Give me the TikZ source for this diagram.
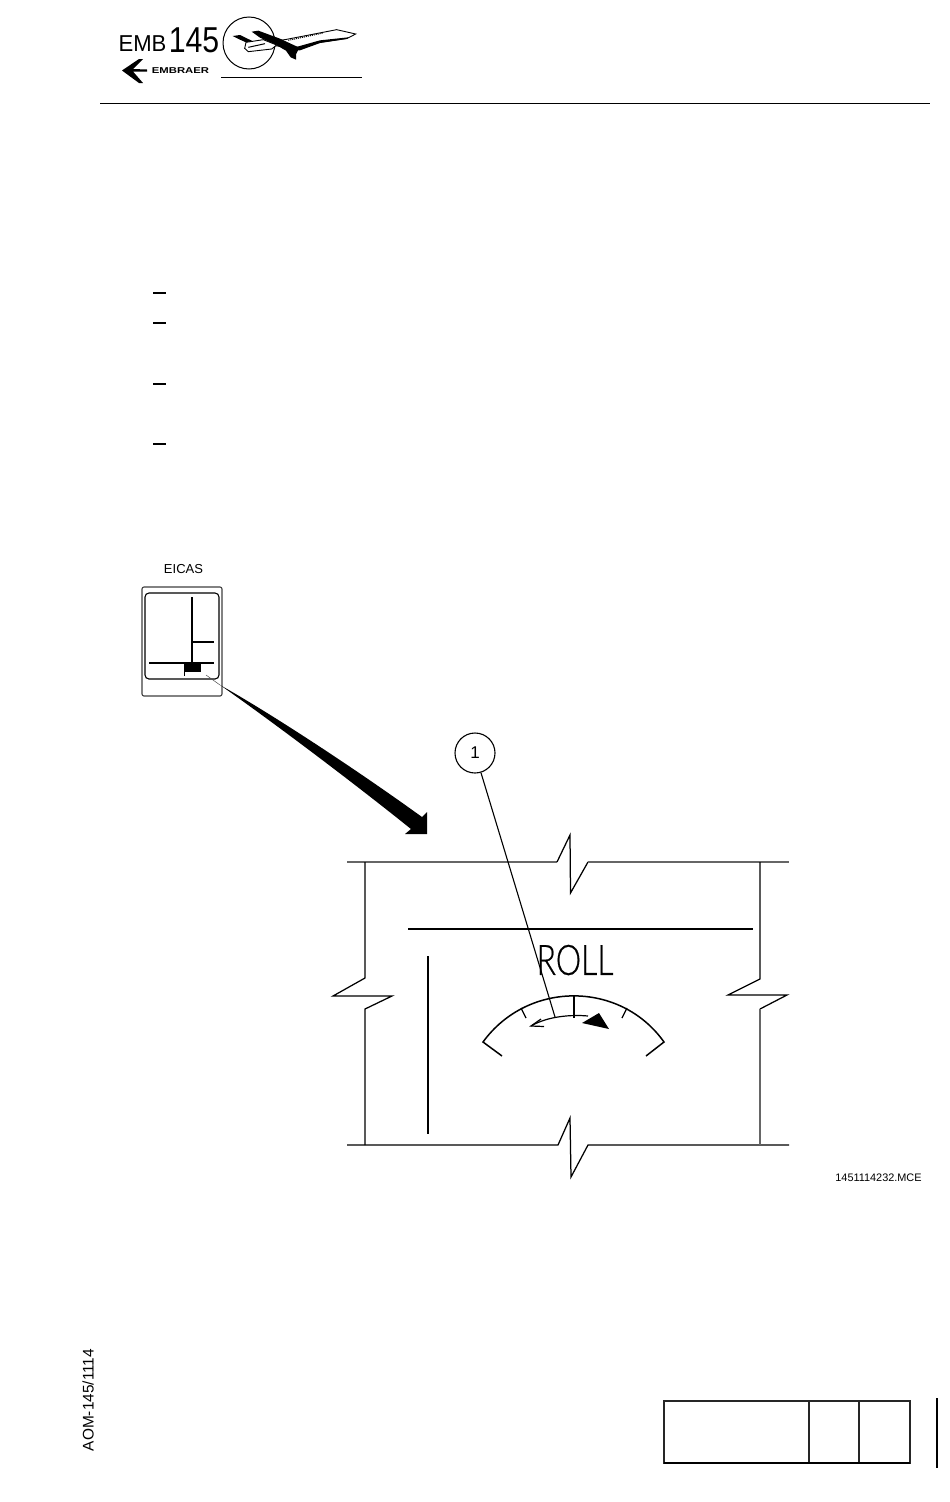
\documentclass[tikz,border=0pt]{standalone}
\usepackage{fontspec}
\usepackage{graphicx}
\setmainfont{Liberation Sans}
\newfontfamily\rollfont[FakeBold=0.6]{Lato Light}
\tikzset{
  thinline/.style={line width=1.25pt,black,line join=miter},
  frameline/.style={line width=1.6pt,black!60,line join=miter},
  heavyline/.style={line width=1.7pt,black},
  solidblack/.style={fill=black,draw=none},
  lbl/.style={inner sep=0pt,outer sep=0pt,text=black},
  tablecell/.style={line width=1.7pt,black!85},
}
\begin{document}
\begin{tikzpicture}[x=1pt,y=-1pt]
\useasboundingbox (0,0) rectangle (950,1502);
\fill[white] (0,0) rectangle (950,1502);

% ---- header logo ----
\node[lbl,anchor=center] (emb) at (142.5,44) {\fontsize{23}{23}\selectfont\scalebox{.96}[1]{EMB}};
\node[lbl,anchor=center] (num) at (194,40) {\fontsize{36}{36}\selectfont\scalebox{.84}[1]{145}};
\node[lbl,anchor=center] (embraer) at (180.5,71) {\fontsize{8.5}{8.5}\selectfont\bfseries\scalebox{1.33}[1]{EMBRAER}};
\fill[black] (122,70.5) -- (139,59) -- (143,59) -- (133,69) -- (147,69.5) -- (147,71.5) -- (133,71.5) -- (143,83) -- (139,83) -- cycle;
\draw[line width=1pt] (249,43) circle[radius=26];
\begin{scope}[shift={(220,15)},xscale=1/3,yscale=1/3]
  \filldraw[fill=white,draw=black,line width=.9pt] (407,57) -- (350,44) -- (200,73) -- (170,78) -- (165,92) -- (240,102) -- (300,82) -- (382,70) -- cycle;
  \fill[black] (300,76) -- (385,67) -- (380,72) -- (300,84) -- (240,106) -- (200,104) -- cycle;
  \fill[black] (95,50) -- (115,47) -- (180,71) -- (238,98) -- (228,118) -- (228,134) -- (212,127) -- (198,107) -- (165,88) -- (120,68) -- cycle;
  \fill[black] (38,63) -- (60,60) -- (97,78) -- (85,85) -- (60,74) -- cycle;
  \filldraw[fill=white,draw=black,line width=.9pt] (78,82) -- (130,74) -- (170,90) -- (155,102) -- (85,110) -- (74,100) -- cycle;
  \draw[line width=1pt] (85,97) -- (135,86);
  \draw[line width=1pt,dash pattern=on 1pt off 1pt] (205,76) -- (310,54);
\end{scope}
\draw[line width=1pt] (221,77) -- (362,77);
\draw[line width=1pt] (100,103) -- (930,103);

% ---- list dashes ----
\foreach \yy in {293,323,384,444} \draw[line width=1.3pt] (153,\yy) -- (166,\yy);

% ---- EICAS thumbnail ----
\node[lbl] (eicas) at (183.5,569.5) {\fontsize{13}{13}\selectfont EICAS};
\draw[line width=1.1pt,black!75,rounded corners=2pt] (142,587) rectangle (222,696);
\draw[line width=1.1pt,rounded corners=4pt] (145,593) rectangle (219,679);
\draw[line width=1.1pt] (192,597) -- (192,663);
\draw[line width=1.1pt] (192,642) -- (214,642);
\draw[line width=1.2pt] (149,663) -- (214,663);
\fill[black] (184,663) rectangle (201,672);
\draw[line width=.9pt] (184,672) -- (184,676);

% ---- curved arrow ----
\draw[line width=.5pt,black!70] (206,675) -- (220,685);
\fill[black] (220,685) .. controls (265,710) and (350,765) .. (422,817)
  -- (427,812) -- (427,834) -- (405,834) -- (411,829)
  .. controls (350,780) and (270,720) .. (220,685) -- cycle;

% ---- frame with break marks ----
\draw[frameline] (347,862) -- (557,862);
\draw[thinline] (557,862) -- (570,835) -- (570.5,893) -- (588,862);
\draw[frameline] (588,862) -- (789,862);
\draw[thinline] (347,1145) -- (558,1145) -- (570,1118) -- (571,1177) -- (588,1145) -- (789,1145);
\draw[thinline] (365,862) -- (365,978) -- (333,996) -- (392,996) -- (365,1009) -- (365,1145);
\draw[thinline] (760,862) -- (760,979) -- (728,995) -- (787,995) -- (760,1009);
\draw[frameline] (760,1009) -- (760,1145);

% ---- tape ----
\draw[heavyline] (408,929) -- (753,929);
\draw[line width=1.25pt] (428,956) -- (428,1134);

% ---- ROLL ----
\node[lbl] (roll) at (575,960) {\fontsize{42}{42}\selectfont\rollfont\scalebox{.76}[1]{ROLL}};

% ---- gauge ----
\draw[line width=1.5pt,line join=miter] (502,1056) -- (483,1042) .. controls (527.7,980.5) and (620.3,980.5) .. (664,1042) -- (646,1056);
\draw[line width=1.2pt] (521,1008) -- (526,1018);
\draw[line width=1.2pt] (574,995) -- (574,1018);
\draw[line width=1.2pt] (627,1008) -- (622,1018);
\draw[line width=1.2pt] (588,1016) .. controls (572,1014.5) and (548,1016) .. (531,1026);
\draw[line width=1.2pt] (541,1019) -- (531,1026) -- (544,1026.5);
\fill[black] (582,1023) -- (599,1013) -- (609,1029) -- cycle;

% ---- callout ----
\node[circle,draw,line width=1.1pt,minimum size=40pt,inner sep=0pt,font=\fontsize{17}{17}\selectfont] (c1) at (475,753) {1};
\coordinate (c1end) at (555,1017);
\draw[line width=1.1pt] (c1) -- (c1end);

% ---- figure code ----
\node[lbl] (code) at (878.5,1178) {\fontsize{10.9}{10.9}\selectfont 1451114232.MCE};

% ---- margin text ----
\node[lbl,rotate=90] (aom) at (88,1400) {\fontsize{15.4}{15.4}\selectfont AOM-145/1114};

% ---- bottom table ----
\draw[tablecell] (664,1401) rectangle (910,1463);
\draw[tablecell] (809,1401) -- (809,1463);
\draw[tablecell] (859,1401) -- (859,1463);
\draw[line width=2.2pt] (664,1463) -- (910,1463);
\draw[line width=2pt] (937,1398) -- (937,1468);
\end{tikzpicture}
\end{document}
